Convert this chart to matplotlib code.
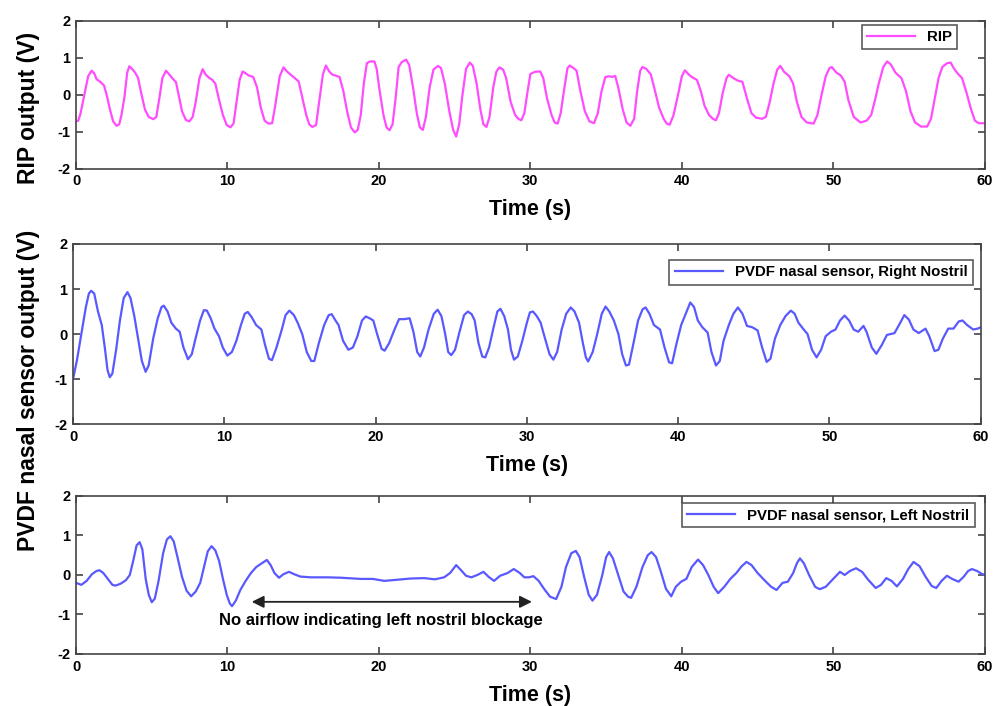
import numpy as np
import matplotlib
matplotlib.use("Agg")
import matplotlib.pyplot as plt

plt.rcParams["font.family"] = ["Liberation Sans", "DejaVu Sans"]
plt.rcParams["font.weight"] = "bold"
plt.rcParams["axes.unicode_minus"] = False

# ============================
# DATA
# ============================

rip_t = [0.0, 0.15, 0.3, 0.55, 0.8, 1.03, 1.2, 1.36, 1.6, 1.85, 2.05, 2.24, 2.45, 2.68, 2.85,
         3.0, 3.2, 3.38, 3.52, 3.7, 3.9, 4.1, 4.3, 4.55, 4.8, 5.1, 5.3, 5.5, 5.7, 5.94, 6.15,
         6.35, 6.6, 6.8, 7.0, 7.25, 7.48, 7.7, 7.9, 8.15, 8.36, 8.55, 8.75, 9.0, 9.2, 9.45, 9.7,
         9.95, 10.2, 10.4, 10.6, 10.8, 11.0, 11.2, 11.4, 11.7, 11.95, 12.2, 12.45, 12.7, 12.95,
         13.15, 13.45, 13.7, 13.95, 14.3, 14.7, 14.95, 15.2, 15.4, 15.6, 15.85, 16.05, 16.3,
         16.5, 16.7, 16.9, 17.4, 17.65, 17.9, 18.15, 18.4, 18.6, 18.8, 19.0, 19.2, 19.4, 19.7,
         19.85, 20.05, 20.3, 20.5, 20.7, 20.9, 21.1, 21.3, 21.5, 21.8, 22.0, 22.25, 22.5, 22.7,
         22.9, 23.1, 23.35, 23.6, 23.9, 24.1, 24.35, 24.65, 24.9, 25.1, 25.3, 25.5, 25.75, 26.0,
         26.2, 26.45, 26.7, 26.9, 27.1, 27.3, 27.55, 27.75, 27.95, 28.2, 28.4, 28.7, 29.0, 29.2,
         29.4, 29.6, 29.8, 30.0, 30.3, 30.65, 30.85, 31.1, 31.4, 31.6, 31.8, 32.0, 32.25, 32.45,
         32.6, 32.85, 33.05, 33.3, 33.6, 33.9, 34.2, 34.45, 34.7, 34.95, 35.2, 35.4, 35.6, 35.8,
         36.1, 36.35, 36.6, 36.85, 37.05, 37.25, 37.4, 37.65, 37.95, 38.2, 38.5, 38.8, 39.0,
         39.2, 39.45, 39.75, 40.0, 40.2, 40.45, 40.65, 41.0, 41.25, 41.5, 41.8, 42.05, 42.25,
         42.45, 42.7, 42.95, 43.1, 43.4, 43.7, 44.0, 44.3, 44.6, 44.9, 45.3, 45.55, 45.8, 46.05,
         46.3, 46.5, 46.75, 47.1, 47.35, 47.6, 47.9, 48.25, 48.7, 48.95, 49.2, 49.5, 49.75, 49.9,
         50.2, 50.5, 50.75, 51.0, 51.35, 51.8, 52.2, 52.5, 52.75, 53.0, 53.3, 53.55, 53.8, 54.1,
         54.5, 54.8, 55.1, 55.4, 55.8, 56.2, 56.45, 56.7, 56.95, 57.2, 57.5, 57.75, 57.95, 58.2,
         58.5, 58.8, 59.1, 59.35, 59.6, 60.0]
rip_v = [-0.72, -0.70, -0.5, 0.0, 0.5, 0.65, 0.58, 0.42, 0.35, 0.25, -0.05, -0.4, -0.72, -0.84,
         -0.80, -0.55, -0.05, 0.6, 0.77, 0.7, 0.6, 0.45, 0.05, -0.4, -0.6, -0.66, -0.6, -0.1,
         0.45, 0.65, 0.55, 0.45, 0.34, -0.05, -0.45, -0.68, -0.72, -0.6, -0.2, 0.45, 0.69, 0.55,
         0.47, 0.4, 0.3, -0.15, -0.55, -0.82, -0.88, -0.78, -0.2, 0.4, 0.63, 0.58, 0.52, 0.48,
         0.2, -0.35, -0.7, -0.78, -0.77, -0.3, 0.5, 0.74, 0.62, 0.5, 0.36, -0.1, -0.55, -0.8,
         -0.87, -0.82, -0.2, 0.55, 0.79, 0.64, 0.55, 0.48, 0.1, -0.45, -0.88, -1.02, -0.95,
         -0.55, 0.3, 0.85, 0.9, 0.9, 0.7, 0.1, -0.55, -0.88, -0.96, -0.8, -0.1, 0.75, 0.88, 0.95,
         0.8, 0.2, -0.5, -0.88, -0.95, -0.6, 0.2, 0.68, 0.78, 0.72, 0.3, -0.45, -0.95, -1.13,
         -0.8, -0.05, 0.7, 0.87, 0.78, 0.3, -0.4, -0.8, -0.87, -0.6, 0.2, 0.62, 0.74, 0.68, 0.45,
         -0.2, -0.55, -0.65, -0.69, -0.5, 0.05, 0.56, 0.62, 0.63, 0.45, -0.1, -0.55, -0.75,
         -0.78, -0.5, 0.2, 0.72, 0.79, 0.72, 0.65, 0.1, -0.45, -0.72, -0.77, -0.5, 0.1, 0.48,
         0.5, 0.48, 0.51, 0.2, -0.4, -0.75, -0.84, -0.65, 0.1, 0.65, 0.75, 0.7, 0.55, 0.15,
         -0.35, -0.65, -0.78, -0.81, -0.55, 0.0, 0.5, 0.66, 0.55, 0.48, 0.4, 0.1, -0.3, -0.55,
         -0.65, -0.69, -0.5, 0.05, 0.45, 0.54, 0.45, 0.38, 0.35, -0.1, -0.5, -0.62, -0.65, -0.6,
         -0.2, 0.3, 0.68, 0.78, 0.62, 0.5, 0.3, -0.2, -0.6, -0.75, -0.78, -0.55, -0.05, 0.5,
         0.72, 0.75, 0.6, 0.52, 0.35, -0.15, -0.6, -0.75, -0.7, -0.55, -0.15, 0.3, 0.75, 0.9,
         0.82, 0.6, 0.45, 0.1, -0.45, -0.75, -0.86, -0.86, -0.65, -0.1, 0.45, 0.75, 0.85, 0.87,
         0.72, 0.58, 0.45, 0.05, -0.4, -0.7, -0.77, -0.77]

right_t = [0.0, 0.25, 0.55, 0.85, 1.05, 1.2, 1.4, 1.65, 1.9, 2.1, 2.28, 2.43, 2.6, 2.85, 3.1,
           3.35, 3.6, 3.8, 4.05, 4.3, 4.55, 4.8, 5.0, 5.3, 5.6, 5.85, 6.0, 6.25, 6.5, 6.8, 7.05,
           7.3, 7.6, 7.85, 8.1, 8.4, 8.65, 8.85, 9.1, 9.35, 9.65, 9.9, 10.2, 10.5, 10.8, 11.1,
           11.35, 11.55, 11.8, 12.1, 12.45, 12.7, 12.95, 13.15, 13.45, 13.8, 14.05, 14.3, 14.6,
           14.85, 15.15, 15.45, 15.75, 15.95, 16.25, 16.6, 16.9, 17.1, 17.35, 17.55, 17.85, 18.2,
           18.5, 18.8, 19.1, 19.35, 19.6, 19.85, 20.1, 20.4, 20.6, 20.9, 21.25, 21.55, 21.9,
           22.25, 22.5, 22.75, 22.95, 23.2, 23.5, 23.85, 24.1, 24.35, 24.6, 24.8, 25.0, 25.25,
           25.55, 25.85, 26.1, 26.35, 26.55, 26.8, 27.05, 27.25, 27.5, 27.8, 28.05, 28.25, 28.5,
           28.75, 28.95, 29.15, 29.4, 29.7, 30.0, 30.2, 30.4, 30.65, 30.9, 31.2, 31.5, 31.75,
           32.0, 32.3, 32.6, 32.9, 33.15, 33.45, 33.7, 33.9, 34.05, 34.35, 34.65, 34.95, 35.2,
           35.45, 35.75, 36.05, 36.3, 36.55, 36.75, 37.05, 37.35, 37.65, 37.85, 38.1, 38.4, 38.8,
           39.1, 39.4, 39.6, 39.9, 40.2, 40.5, 40.8, 41.05, 41.3, 41.6, 41.95, 42.2, 42.5, 42.75,
           43.0, 43.35, 43.65, 43.95, 44.25, 44.55, 44.9, 45.25, 45.55, 45.85, 46.1, 46.4, 46.75,
           47.1, 47.45, 47.7, 47.95, 48.3, 48.55, 48.85, 49.15, 49.45, 49.75, 50.1, 50.4, 50.7,
           51.0, 51.3, 51.6, 51.9, 52.25, 52.45, 52.8, 53.1, 53.45, 53.8, 54.3, 54.6, 54.95,
           55.25, 55.55, 55.9, 56.35, 56.6, 56.95, 57.2, 57.5, 57.85, 58.2, 58.55, 58.8, 59.1,
           59.5, 59.8, 60.0]
right_v = [-1.0, -0.6, 0.0, 0.6, 0.9, 0.96, 0.9, 0.5, 0.2, -0.3, -0.8, -0.96, -0.88, -0.35,
           0.3, 0.8, 0.93, 0.8, 0.4, -0.1, -0.6, -0.84, -0.7, -0.1, 0.35, 0.6, 0.63, 0.5, 0.25,
           0.12, 0.05, -0.3, -0.56, -0.45, -0.1, 0.3, 0.53, 0.52, 0.35, 0.12, -0.05, -0.3, -0.48,
           -0.4, -0.15, 0.2, 0.45, 0.49, 0.38, 0.2, 0.1, -0.25, -0.55, -0.58, -0.3, 0.1, 0.42,
           0.52, 0.42, 0.25, 0.0, -0.4, -0.6, -0.6, -0.2, 0.2, 0.42, 0.44, 0.3, 0.2, -0.15, -0.35,
           -0.3, -0.05, 0.3, 0.39, 0.35, 0.3, 0.0, -0.33, -0.37, -0.2, 0.1, 0.33, 0.33, 0.35,
           0.05, -0.4, -0.5, -0.3, 0.1, 0.45, 0.54, 0.4, 0.0, -0.4, -0.47, -0.35, 0.05, 0.42, 0.5,
           0.44, 0.3, -0.2, -0.5, -0.52, -0.3, 0.15, 0.5, 0.56, 0.4, 0.1, -0.35, -0.57, -0.5,
           -0.15, 0.25, 0.48, 0.5, 0.4, 0.26, -0.1, -0.45, -0.57, -0.4, 0.1, 0.45, 0.59, 0.5,
           0.25, -0.2, -0.52, -0.61, -0.4, 0.0, 0.45, 0.61, 0.5, 0.3, 0.0, -0.45, -0.7, -0.68,
           -0.2, 0.3, 0.55, 0.59, 0.45, 0.2, 0.1, -0.3, -0.63, -0.65, -0.2, 0.2, 0.45, 0.7, 0.6,
           0.3, 0.15, 0.03, -0.4, -0.7, -0.6, -0.15, 0.2, 0.45, 0.59, 0.45, 0.18, 0.15, 0.08,
           -0.3, -0.62, -0.55, -0.1, 0.2, 0.4, 0.52, 0.45, 0.25, 0.1, 0.0, -0.35, -0.52, -0.35,
           -0.05, 0.05, 0.1, 0.3, 0.41, 0.3, 0.1, 0.05, 0.18, 0.05, -0.3, -0.44, -0.25, -0.02,
           0.02, 0.2, 0.42, 0.32, 0.1, 0.02, 0.12, -0.05, -0.38, -0.35, -0.1, 0.12, 0.12, 0.28,
           0.3, 0.2, 0.1, 0.12, 0.15]

left_t = [0.0, 0.35, 0.7, 1.05, 1.35, 1.55, 1.8, 2.1, 2.4, 2.6, 2.95, 3.3, 3.55, 3.8, 4.0, 4.2,
          4.38, 4.6, 4.8, 5.0, 5.2, 5.45, 5.75, 6.0, 6.23, 6.45, 6.7, 7.0, 7.3, 7.6, 7.9, 8.2,
          8.45, 8.7, 8.95, 9.2, 9.45, 9.7, 9.95, 10.15, 10.3, 10.55, 10.85, 11.2, 11.55, 11.9,
          12.2, 12.6, 12.85, 13.1, 13.4, 13.7, 14.06, 14.4, 14.8, 15.5, 16.6, 17.5, 18.8, 19.6,
          20.35, 21.2, 22.1, 23.0, 23.7, 24.3, 24.7, 25.1, 25.4, 25.75, 26.1, 26.5, 26.9, 27.25,
          27.6, 28.0, 28.5, 28.9, 29.3, 29.6, 29.9, 30.2, 30.55, 30.9, 31.3, 31.7, 32.05, 32.35,
          32.7, 33.0, 33.25, 33.55, 33.85, 34.1, 34.4, 34.75, 35.0, 35.2, 35.45, 35.8, 36.15,
          36.45, 36.65, 37.0, 37.4, 37.75, 38.0, 38.3, 38.6, 38.95, 39.3, 39.6, 39.95, 40.3,
          40.65, 41.07, 41.4, 41.75, 42.1, 42.4, 42.8, 43.2, 43.6, 43.95, 44.27, 44.6, 45.0,
          45.5, 45.9, 46.25, 46.65, 47.0, 47.35, 47.6, 47.8, 48.05, 48.4, 48.8, 49.1, 49.5,
          49.95, 50.44, 50.75, 51.1, 51.5, 51.9, 52.3, 52.8, 53.15, 53.5, 53.85, 54.2, 54.6,
          54.95, 55.3, 55.7, 56.1, 56.5, 56.8, 57.15, 57.5, 57.85, 58.27, 58.6, 58.9, 59.15,
          59.5, 59.8, 60.0]
left_v = [-0.2, -0.25, -0.15, 0.02, 0.1, 0.12, 0.05, -0.1, -0.25, -0.27, -0.22, -0.13, 0.0,
          0.4, 0.75, 0.83, 0.65, -0.1, -0.5, -0.69, -0.6, -0.15, 0.55, 0.9, 0.98, 0.85, 0.45,
          -0.05, -0.4, -0.54, -0.42, -0.2, 0.2, 0.6, 0.73, 0.62, 0.35, -0.1, -0.5, -0.72, -0.79,
          -0.65, -0.38, -0.15, 0.05, 0.2, 0.28, 0.38, 0.25, 0.05, -0.07, 0.02, 0.08, 0.02, -0.04,
          -0.06, -0.06, -0.07, -0.1, -0.1, -0.15, -0.12, -0.09, -0.08, -0.11, -0.06, 0.05, 0.25,
          0.13, -0.02, -0.06, 0.0, 0.08, -0.05, -0.15, -0.02, 0.05, 0.15, 0.05, -0.06, -0.06,
          -0.03, -0.15, -0.35, -0.55, -0.61, -0.3, 0.2, 0.55, 0.61, 0.45, -0.05, -0.5, -0.65,
          -0.5, 0.0, 0.45, 0.58, 0.42, 0.0, -0.42, -0.55, -0.58, -0.3, 0.2, 0.5, 0.58, 0.45, 0.1,
          -0.35, -0.54, -0.3, -0.17, -0.1, 0.2, 0.39, 0.25, 0.0, -0.3, -0.46, -0.3, -0.1, 0.05,
          0.22, 0.33, 0.25, 0.05, -0.15, -0.3, -0.38, -0.2, -0.17, 0.05, 0.3, 0.42, 0.3, 0.0,
          -0.3, -0.36, -0.3, -0.12, 0.08, 0.0, 0.1, 0.17, 0.08, -0.12, -0.33, -0.25, -0.08,
          -0.15, -0.29, -0.1, 0.15, 0.33, 0.22, -0.05, -0.28, -0.33, -0.15, -0.02, -0.1, -0.17,
          -0.05, 0.1, 0.15, 0.1, 0.03, 0.0]

rip_label = "RIP"
right_label = "PVDF nasal sensor, Right Nostril"
left_label = "PVDF nasal sensor, Left Nostril"
blockage = (11.6, 30.1)
note = "No airflow indicating left nostril blockage"

# ============================
# FIGURE
# ============================

fig = plt.figure(figsize=(10.03, 7.06), dpi=100)
ax1 = fig.add_axes([0.0758, 0.761, 0.906, 0.2096])
ax2 = fig.add_axes([0.0728, 0.3994, 0.905, 0.2550])
ax3 = fig.add_axes([0.0758, 0.0737, 0.906, 0.2238])

ax1.plot(rip_t, rip_v, color="#ff4cff", lw=1.6, label=rip_label)
ax2.plot(right_t, right_v, color="#5959ff", lw=1.6, label=right_label)
ax3.plot(left_t, left_v, color="#5959ff", lw=1.6, label=left_label)

legend_anchor = {ax1: (0.970, 0.973), ax2: (0.991, 0.911), ax3: (0.989, 0.956)}

for ax in (ax1, ax2, ax3):
    ax.set_xlim(0, 60)
    ax.set_ylim(-2, 2)
    ax.set_xticks([0, 10, 20, 30, 40, 50, 60])
    ax.set_yticks([-2, -1, 0, 1, 2])
    ax.tick_params(direction="in", top=True, right=True, length=5, width=1.2,
                   color="#444444", labelsize=10.5, pad=4)
    for lab in ax.get_xticklabels() + ax.get_yticklabels():
        lab.set_fontweight("bold")
    for s in ax.spines.values():
        s.set_color("#444444")
        s.set_linewidth(1.2)
    ax.set_xlabel("Time (s)", fontsize=15.5, fontweight="bold", labelpad=8)
    leg = ax.legend(loc="upper right", bbox_to_anchor=legend_anchor[ax], borderaxespad=0,
                    frameon=True, fancybox=False, handlelength=3.2, borderpad=0.35,
                    prop={"weight": "bold", "size": 10.8})
    leg.get_frame().set_edgecolor("#333333")
    leg.get_frame().set_linewidth(1.2)

fig.text(0.028, 0.847, "RIP output (V)", rotation=90, fontsize=16.5,
         fontweight="bold", ha="center", va="center")
fig.text(0.028, 0.4476, "PVDF nasal sensor output (V)", rotation=90, fontsize=16.5,
         fontweight="bold", ha="center", va="center")

ax3.annotate("", xy=(blockage[0], -0.68), xytext=(blockage[1], -0.68),
             arrowprops=dict(arrowstyle="<|-|>", color="#222222", lw=1.3,
                             mutation_scale=18, shrinkA=0, shrinkB=0))
ax3.text(20.1, -1.16, note, ha="center", va="center", fontsize=12, fontweight="bold")

fig.savefig("out.png", dpi=100)
